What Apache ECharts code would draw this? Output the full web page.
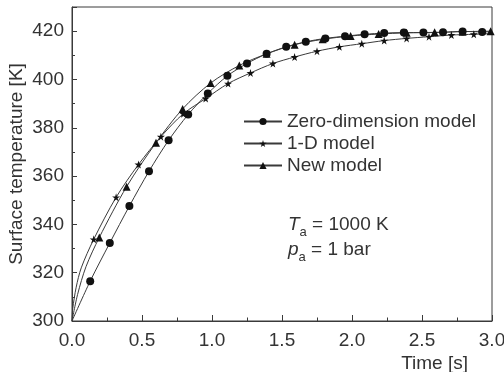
<!DOCTYPE html>
<html>
<head>
<meta charset="utf-8">
<script src="https://cdn.jsdelivr.net/npm/echarts@6/dist/echarts.min.js"></script>
<style>
  html, body { margin: 0; padding: 0; background: #fff; }
  #chart { width: 504px; height: 372px; }
</style>
</head>
<body>
<div id="chart"></div>
<script>
// ====== surface temperature vs time ======
const seriesNames = ["Zero-dimension model", "1-D model", "New model"];

// Zero-dimension model (circles); first and last points are unmarked curve ends
const zeroTime = [0, 0.13, 0.27, 0.41, 0.55, 0.69, 0.83, 0.97, 1.11, 1.25, 1.39, 1.53, 1.67, 1.81, 1.95, 2.09, 2.23, 2.37, 2.51, 2.65, 2.79, 2.93, 3.0];
const zeroTemp = [300, 316.5, 332.3, 347.6, 362, 374.8, 385.5, 394.2, 401.5, 406.6, 410.6, 413.5, 415.6, 417, 417.9, 418.7, 419.2, 419.4, 419.4, 419.5, 419.9, 419.7, 419.8];
const zeroMarked = [false, true, true, true, true, true, true, true, true, true, true, true, true, true, true, true, true, true, true, true, true, true, false];

// 1-D model (stars); first points near t=0 are unmarked curve points
const oneDTime = [0, 0.005, 0.03, 0.066, 0.155, 0.315, 0.475, 0.635, 0.795, 0.955, 1.115, 1.275, 1.435, 1.59, 1.75, 1.91, 2.07, 2.23, 2.39, 2.55, 2.71, 2.87, 3.0];
const oneDTemp = [300, 305, 314, 322, 333.8, 351.2, 364.8, 376.3, 385.8, 392.1, 398.3, 402.7, 406.6, 409.3, 411.7, 413.5, 414.8, 416.1, 417, 417.7, 418.4, 418.7, 419];
const oneDMarked = [false, false, false, false, true, true, true, true, true, true, true, true, true, true, true, true, true, true, true, true, true, true, false];

// New model (triangles)
const newTime = [0, 0.04, 0.1, 0.195, 0.39, 0.6, 0.79, 0.99, 1.195, 1.39, 1.59, 1.79, 1.99, 2.19, 2.39, 2.59, 2.79, 2.99];
const newTemp = [300, 311, 322.5, 334.6, 355.6, 373.8, 387.8, 398.5, 405.8, 410.6, 414.4, 416.6, 418, 418.8, 419.3, 419.5, 419.8, 420];
const newMarked = [false, false, false, true, true, true, true, true, true, true, true, true, true, true, true, true, true, true];

const xTicks = [0, 0.5, 1.0, 1.5, 2.0, 2.5, 3.0];
const yTicks = [300, 320, 340, 360, 380, 400, 420];

const INK = "#3a3a3a";
const FONT = "Liberation Sans, Arial, sans-serif";
const STAR = "path://M50,0 L61,35 L98,35 L68,57 L79,91 L50,70 L21,91 L32,57 L2,35 L39,35 Z";

const build = (xs, ys, marked) =>
  xs.map((x, i) => (marked[i] ? [x, ys[i]] : { value: [x, ys[i]], symbol: "none" }));

const lineSeries = (name, data, symbol, size) => ({
  name,
  type: "line",
  data,
  symbol,
  symbolSize: size,
  smooth: 0.3,
  showAllSymbol: true,
  lineStyle: { color: INK, width: 1 },
  itemStyle: { color: "#111" },
  emphasis: { disabled: true },
});

const noteStyle = (text) => ({
  text,
  rich: {
    i: { fontSize: 19, fontStyle: "italic", fontFamily: FONT, fill: "#333", lineHeight: 28 },
    s: { fontSize: 13, fontFamily: FONT, fill: "#333", lineHeight: 28, verticalAlign: "bottom" },
    n: { fontSize: 19, fontFamily: FONT, fill: "#333", lineHeight: 28 },
  },
});

const chart = echarts.init(document.getElementById("chart"), null, { renderer: "canvas" });

chart.setOption({
  animation: false,
  backgroundColor: "#fff",
  textStyle: { fontFamily: FONT },
  grid: {
    left: 72, right: 12, top: 7, bottom: 51,
    outerBoundsMode: "none",
    show: true, borderColor: INK, borderWidth: 1,
  },
  legend: {
    orient: "vertical",
    left: 243,
    top: 112,
    padding: 0,
    itemWidth: 38,
    itemHeight: 9,
    itemGap: 3,
    selectedMode: false,
    textStyle: { color: "#333", fontSize: 19, fontFamily: FONT },
    data: seriesNames,
  },
  xAxis: {
    type: "value",
    min: 0,
    max: 3,
    interval: 0.5,
    name: "Time [s]",
    nameLocation: "end",
    nameGap: -24,
    nameMoveOverlap: false,
    nameTextStyle: { color: "#333", fontSize: 19, align: "right", verticalAlign: "top", padding: [33, 0, 0, 0] },
    axisLine: { lineStyle: { color: INK } },
    axisTick: { inside: true, length: 6, lineStyle: { color: INK } },
    minorTick: { show: true, splitNumber: 2, length: 3.5, lineStyle: { color: INK } },
    axisLabel: {
      color: "#333", fontSize: 19, margin: 10,
      formatter: (v) => (xTicks.includes(v) ? v.toFixed(1) : ""),
    },
    splitLine: { show: false },
  },
  yAxis: {
    type: "value",
    min: 300,
    max: 430,
    interval: 20,
    name: "Surface temperature [K]",
    nameLocation: "middle",
    nameGap: 46,
    nameMoveOverlap: false,
    nameTextStyle: { color: "#333", fontSize: 19 },
    axisLine: { show: true, lineStyle: { color: INK } },
    axisTick: { inside: true, length: 5, lineStyle: { color: INK } },
    minorTick: { show: true, splitNumber: 2, length: 3, lineStyle: { color: INK } },
    axisLabel: {
      color: "#333", fontSize: 19, margin: 8, showMaxLabel: false,
      formatter: (v) => (yTicks.includes(v) ? String(v) : ""),
    },
    splitLine: { show: false },
  },
  graphic: [
    { type: "text", left: 288, top: 215, style: noteStyle("{i|T}{s|a}{n| = 1000 K}") },
    { type: "text", left: 288, top: 240, style: noteStyle("{i|p}{s|a}{n| = 1 bar}") },
  ],
  series: [
    lineSeries(seriesNames[0], build(zeroTime, zeroTemp, zeroMarked), "circle", 8),
    lineSeries(seriesNames[1], build(oneDTime, oneDTemp, oneDMarked), STAR, 8),
    lineSeries(seriesNames[2], build(newTime, newTemp, newMarked), "triangle", 8),
  ],
});
</script>
</body>
</html>
